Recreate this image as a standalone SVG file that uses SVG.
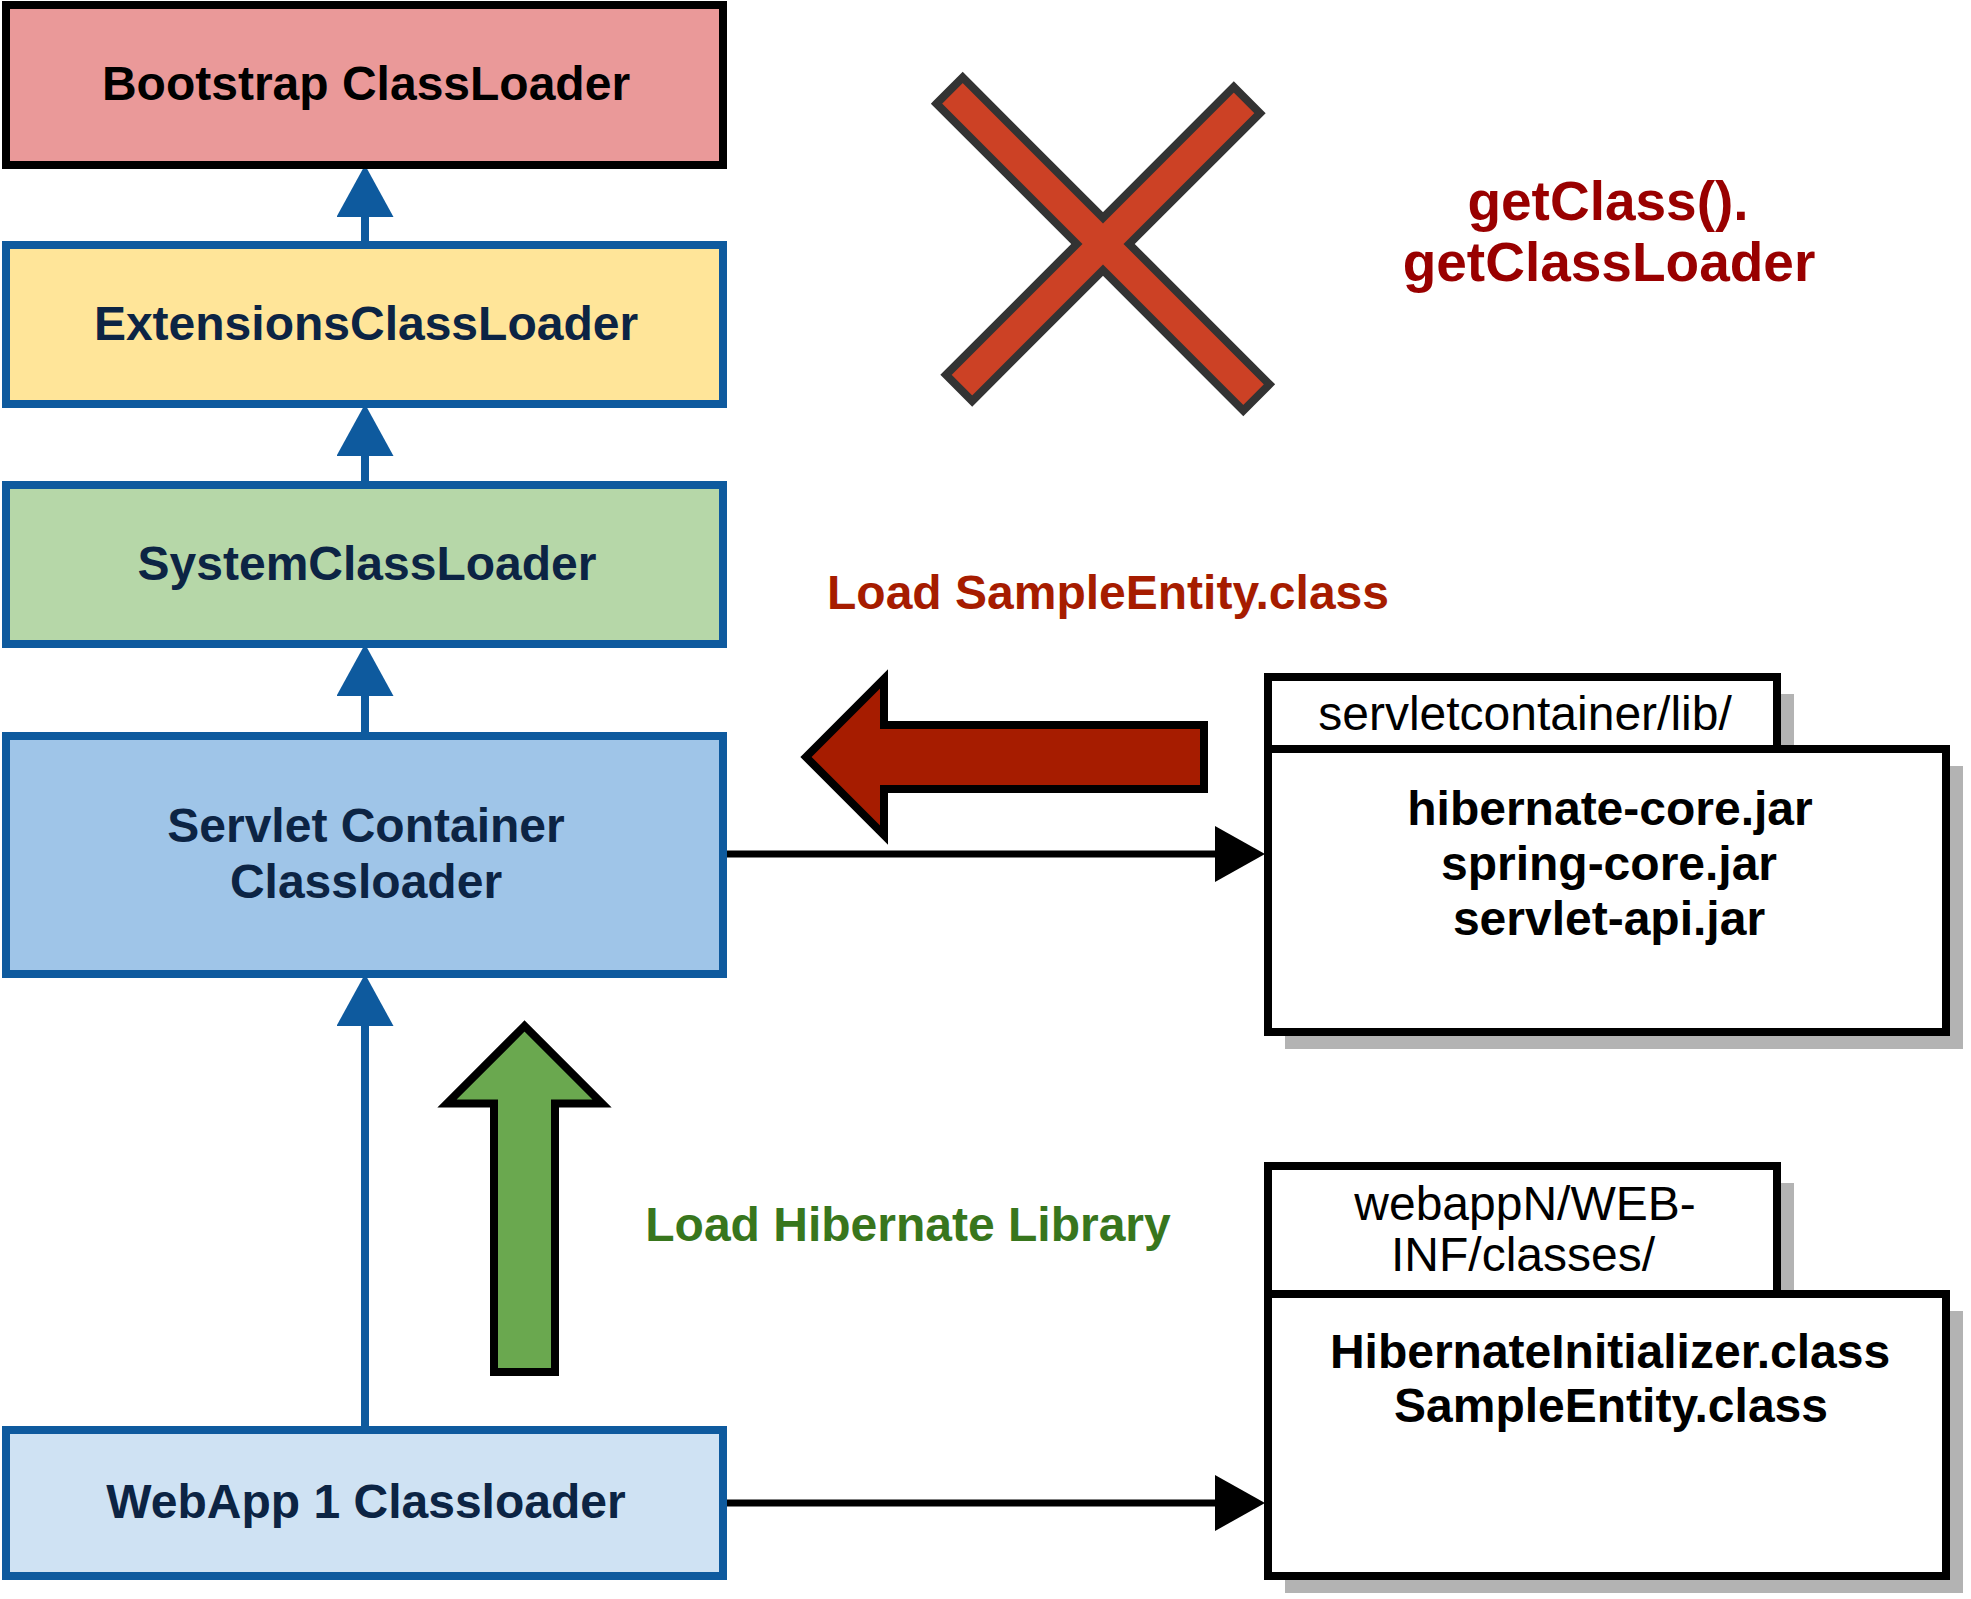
<svg xmlns="http://www.w3.org/2000/svg" width="1971" height="1599" viewBox="0 0 1971 1599">
<style>
  .t { font-family: "Liberation Sans", Arial, sans-serif; font-size: 48px; text-anchor: middle; }
  .b { font-weight: bold; }
  .navy { fill: #0C2444; }
  .blk { fill: #000000; }
  .loader { stroke: #0E5A9E; stroke-width: 8; }
  .shadow { fill: #B3B3B3; stroke: none; }
  .folder { fill: #FFFFFF; stroke: #000000; stroke-width: 8; }
  .blueline { stroke: #0E5A9E; stroke-width: 8; fill: none; }
  .blackline { stroke: #000000; stroke-width: 7; fill: none; }
  .bigarrow { stroke: #000000; stroke-width: 8; stroke-linejoin: miter; }
</style>
<defs>
  <marker id="blueHead" markerUnits="userSpaceOnUse" viewBox="0 0 52 57" refX="0" refY="28.5" markerWidth="52" markerHeight="57" orient="auto">
    <path d="M0,0 L52,28.5 L0,57 Z" fill="#0E5A9E"/>
  </marker>
  <marker id="blackHead" markerUnits="userSpaceOnUse" viewBox="0 0 50 56" refX="0" refY="28" markerWidth="50" markerHeight="56" orient="auto">
    <path d="M0,0 L50,28 L0,56 Z" fill="#000000"/>
  </marker>
</defs>
<rect width="1971" height="1599" fill="#FFFFFF"/>

<g id="connectors">
  <line class="blueline" x1="365" y1="245" x2="365" y2="217" marker-end="url(#blueHead)"/>
  <line class="blueline" x1="365" y1="485" x2="365" y2="456" marker-end="url(#blueHead)"/>
  <line class="blueline" x1="365" y1="736" x2="365" y2="696" marker-end="url(#blueHead)"/>
  <line class="blueline" x1="365" y1="1430" x2="365" y2="1026" marker-end="url(#blueHead)"/>
  <line class="blackline" x1="727" y1="854" x2="1215" y2="854" marker-end="url(#blackHead)"/>
  <line class="blackline" x1="727" y1="1503" x2="1215" y2="1503" marker-end="url(#blackHead)"/>
</g>

<g id="bootstrap">
  <rect x="6" y="5" width="717" height="160" fill="#EA9999" stroke="#000000" stroke-width="8"/>
  <text class="t b blk" x="366" y="100">Bootstrap ClassLoader</text>
</g>
<g id="extensions">
  <rect class="loader" x="6" y="245" width="717" height="159" fill="#FFE599"/>
  <text class="t b navy" x="366" y="340">ExtensionsClassLoader</text>
</g>
<g id="system">
  <rect class="loader" x="6" y="485" width="717" height="159" fill="#B6D7A8"/>
  <text class="t b navy" x="367" y="580">SystemClassLoader</text>
</g>
<g id="servlet-container">
  <rect class="loader" x="6" y="736" width="717" height="238" fill="#9FC5E8"/>
  <text class="t b navy" x="366" y="842">Servlet Container</text>
  <text class="t b navy" x="366" y="898">Classloader</text>
</g>
<g id="webapp1">
  <rect class="loader" x="6" y="1430" width="717" height="146" fill="#CFE2F3"/>
  <text class="t b navy" x="366" y="1518">WebApp 1 Classloader</text>
</g>

<g id="cross">
  <polygon points="936.5,103.7 962.7,77.5 1103,217.84 1233.8,87 1260,113.2 1129.16,244 1269.5,384.3 1243.3,410.5 1103,270.16 972.2,401 946,374.8 1076.84,244" fill="#CC4125" stroke="#333333" stroke-width="8" stroke-linejoin="miter"/>
</g>

<g id="getclassloader-label">
  <text class="t b" style="font-size:55px" fill="#990000" x="1608" y="220">getClass().</text>
  <text class="t b" style="font-size:55px" fill="#990000" x="1609" y="281">getClassLoader</text>
</g>

<g id="load-sampleentity">
  <text class="t b" fill="#A61C00" x="1108" y="609">Load SampleEntity.class</text>
  <polygon class="bigarrow" points="806,757 884,679 884,725 1204,725 1204,789 884,789 884,835" fill="#A61C00"/>
</g>

<g id="load-hibernate">
  <polygon class="bigarrow" points="524.5,1026 447,1103.5 494,1103.5 494,1372 555,1372 555,1103.5 602,1103.5" fill="#6AA84F"/>
  <text class="t b" fill="#38761D" x="908" y="1241">Load Hibernate Library</text>
</g>

<g id="folder-servletcontainer-lib">
  <rect class="shadow" x="1285" y="694" width="509" height="72"/>
  <rect class="shadow" x="1285" y="766" width="678" height="283"/>
  <rect class="folder" x="1268" y="677" width="509" height="72"/>
  <rect class="folder" x="1268" y="749" width="678" height="283"/>
  <text class="t blk" x="1525" y="730">servletcontainer/lib/</text>
  <text class="t b blk" x="1610" y="825">hibernate-core.jar</text>
  <text class="t b blk" x="1609" y="880">spring-core.jar</text>
  <text class="t b blk" x="1609" y="935">servlet-api.jar</text>
</g>

<g id="folder-webapp-classes">
  <rect class="shadow" x="1285" y="1183" width="509" height="128"/>
  <rect class="shadow" x="1285" y="1311" width="678" height="282"/>
  <rect class="folder" x="1268" y="1166" width="509" height="128"/>
  <rect class="folder" x="1268" y="1294" width="678" height="282"/>
  <text class="t blk" x="1525" y="1220">webappN/WEB-</text>
  <text class="t blk" x="1523" y="1271">INF/classes/</text>
  <text class="t b blk" x="1610" y="1368">HibernateInitializer.class</text>
  <text class="t b blk" x="1611" y="1422">SampleEntity.class</text>
</g>
</svg>
